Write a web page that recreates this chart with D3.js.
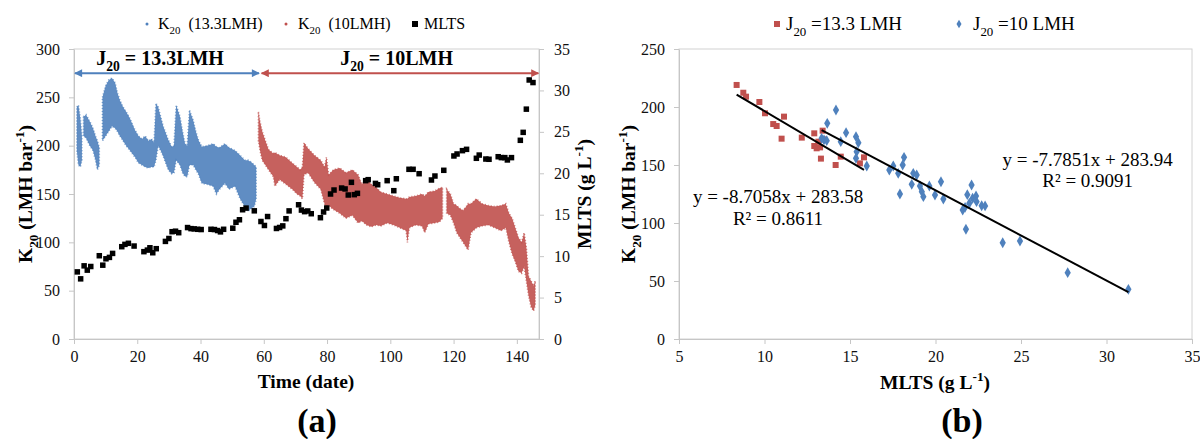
<html>
<head>
<style>
  body { margin: 0; background: #fff; }
  text { font-family: "Liberation Serif", "Times New Roman", serif; fill: #000; white-space: pre; }
  .axis path, .axis line { stroke: #c6c6c6; }
  .axis text { font-size: 16px; fill: #111; }
  .frame { fill: none; stroke: #d2d2d2; }
</style>
</head>
<body>
<svg id="chart" width="1200" height="439"></svg>
<script src="https://cdn.jsdelivr.net/npm/d3@7/dist/d3.min.js"></script>
<script>
// ---------- data ----------
// (a) K20 clouds, kept as envelopes per day: [day, low, high]  (null = gap)
const k20Band133 = [
  [0.9,195,240],[1.4,180,242],[2.0,178,228],[2.5,185,210],[2.7,null,null],
  [3.0,210,230],[3.8,208,232],[5.0,200,225],[6.0,195,218],[6.8,185,210],[7.4,175,205],[8.0,180,198],[8.5,null,null],
  [9.0,205,250],[10.0,210,262],[11.0,215,268],[12.0,220,270],[13.0,218,265],[13.7,215,255],[14.5,210,247],
  [15.5,205,240],[16.5,200,235],[17.7,195,228],[19.3,188,216],[20.4,182,210],[21.5,180,207],[22.5,178,210],
  [23.5,177,205],[24.5,178,207],[25.3,178,203],[25.9,185,244],[26.6,200,240],[27.4,195,230],[28.2,189,220],
  [29.0,182,213],[29.8,175,206],[30.9,171,199],[31.6,172,200],[32.3,185,242],[33.5,180,230],[34.3,172,215],
  [35.1,168,202],[35.8,168,200],[36.5,180,237],[37.7,180,226],[38.5,175,215],[39.3,171,206],[40.4,161,199],
  [42,160,200],[44,158,202],[45,150,199],[46,155,198],[47.7,161,202],[49,155,198],[50.9,158,195],[52.5,145,190],
  [54,137,185],[55,132,185],[56,135,183],[57,137,180],[57.6,145,178]
]
const k20Band10 = [
  [58.3,205,235],[58.8,195,225],[59.5,185,215],[60.5,180,205],[61.5,175,196],[63.0,168,192],[63.5,158,193],
  [65,165,190],[67,160,188],[69,155,182],[70.5,150,178],[71.5,148,175],[72.2,145,178],[72.7,170,203],
  [74,172,197],[76,162,190],[78,155,185],[79.2,140,178],[79.8,135,188],[80.5,138,170],[82,134,175],
  [84,130,177],[86,125,172],[88,128,175],[89.8,120,170],[91,122,160],[92.5,118,165],[94,116,160],
  [95.5,118,157],[97,117,152],[99,120,150],[101,118,148],[103,115,146],[105,112,145],[105.4,100,145],
  [106,115,147],[108,118,148],[110,117,150],[110.9,110,148],[112,119,152],[114,120,153],[115.5,121,156],
  [116.5,125,157],[117.1,null,null],
  [117.8,130,155],[119,128,150],[120,120,140],[121,110,138],[122,105,135],[123,100,133],[124,95,137],
  [124.6,92,140],[125.5,110,140],[127.2,115,145],[129,117,140],[131,118,138],[133,115,137],[135,112,138],
  [136.5,115,140],[137.5,100,130],[138.5,88,125],[139.5,80,115],[140.5,70,105],[141.5,68,100],[142.3,75,110],
  [143,60,95],[143.7,45,65],[144.5,33,60],[145.3,29,55],[145.8,35,60]
]
// (a) MLTS points: [day, g/L]
const mlts = [
  [1.05,8.10],[2.1,7.26],[3.2,8.83],[4.2,8.31],[5.3,8.75],[8.0,10.05],[9.1,8.91],[10.1,9.68],[11.2,9.85],
  [12.2,10.33],[15.1,11.14],[16.1,11.42],[17.2,11.55],[19.0,11.22],[22.1,10.54],[23.2,10.73],[24.0,11.01],
  [24.9,10.41],[26.0,10.90],[28.9,11.78],[30.0,12.13],[31.0,12.95],[32.1,13.01],[33.1,12.83],[35.9,13.45],
  [37.0,13.32],[38.0,13.29],[39.1,13.24],[40.2,13.21],[43.3,13.24],[44.4,13.21],[45.4,13.09],[46.3,12.93],
  [47.3,13.24],[50.2,13.37],[51.2,14.09],[52.3,14.39],[53.3,15.60],[54.4,15.80],[57.0,15.47],[59.1,14.18],
  [60.2,13.70],[61.2,14.78],[64.0,13.34],[65.0,13.46],[66.0,13.65],[67.0,14.52],[68.0,15.46],[71.0,16.20],
  [71.9,15.56],[72.9,15.37],[73.9,15.45],[75.0,15.12],[77.9,14.64],[78.9,15.33],[79.9,15.81],[81.1,17.50],
  [82.2,17.98],[84.6,18.22],[85.7,18.11],[86.7,17.38],[87.7,18.91],[88.6,17.42],[89.6,17.58],[92.2,19.11],
  [93.0,19.23],[95.3,18.78],[96.0,18.62],[99.0,19.11],[101.1,17.90],[101.9,19.34],[105.9,20.48],[107.2,20.48],
  [109.1,19.95],[113.0,19.19],[114.1,19.67],[116.9,20.36],[120.1,22.09],[121.1,22.33],[122.8,22.73],
  [124.1,22.89],[127.2,21.81],[128.1,22.20],[130.2,21.72],[131.2,21.69],[134.1,22.00],[135.1,21.89],
  [136.2,21.89],[137.0,21.61],[138.3,21.89],[141.1,23.98],[142.0,24.94],[143.0,27.74],[143.9,31.26],[145.1,30.95]
]
// (b) K20 vs MLTS: [MLTS, K20]
const scatter133 = [
  [8.37,219],[8.76,212.3],[8.92,208.9],[9.70,204.3],[10.03,194.6],[10.51,185.3],[10.71,183.6],[11.0,172.7],
  [11.14,191.7],[12.18,173.6],[12.91,177.3],[12.91,166.4],[13.05,164.4],[13.25,165.2],[13.15,170.1],
  [13.30,155.5],[13.40,179.6],[13.44,172.1],[14.16,150],[14.46,157.2],[15.58,151.4],[15.82,156.6]
]
const scatter10 = [
  [13.34,173],[13.48,171.6],[13.64,171],[13.67,185.9],[14.18,197.4],[14.46,170.1],[14.77,177.9],[15.35,174.4],
  [15.49,169.2],[15.39,161.5],[15.35,155.8],[15.98,149.1],[17.30,145.7],[17.53,149.1],[17.82,142.8],[17.92,125],
  [18.08,150],[18.16,156.6],[18.61,133.3],[18.7,142.8],[18.9,141.4],[19.09,131.9],[19.2,127],[19.29,122.7],
  [19.64,131.9],[19.97,124.1],[20.32,135.6],[20.46,120.7],[21.59,111.2],[21.73,113.5],[21.78,94.6],[21.86,124.4],
  [21.98,117],[22.11,132.8],[22.17,121.3],[22.37,123.3],[22.4,118.4],[22.7,114.9],[22.9,114.7],[23.93,83],
  [24.94,84.5],[27.73,57.2],[31.28,42.8]
]
// linear fits shown on (b): [slope, intercept, R2]
const fit133 = [-8.7058, 283.58, 0.8611]
const fit10 = [-7.7851, 283.94, 0.9091]

// tick values
const dayTicks = [0, 20, 40, 60, 80, 100, 120, 140]
const kTicksA = [0, 50, 100, 150, 200, 250, 300]
const mltsTicks = [0, 5, 10, 15, 20, 25, 30, 35]
const mltsTicksB = [5, 10, 15, 20, 25, 30, 35]
const kTicksB = [0, 50, 100, 150, 200, 250]

const blue = "#4f81bd", red = "#c0504d"
const serif = '"Liberation Serif", "Times New Roman", serif'

let svg = d3.select("#chart")

// write text with sub/superscript parts
function rich(sel, parts, size) {
  let off = 0
  parts.forEach(p => {
    let shift = p.sub ? size * 0.3 : p.sup ? -size * 0.4 : 0
    sel.append("tspan")
      .attr("dy", shift - off)
      .attr("font-size", (p.sub || p.sup) ? size * 0.68 : size)
      .text(p.t)
    off = shift
  })
  return sel
}

// draw an axis and force the serif tick font
function axis(gen, tx, ty) {
  let g = svg.append("g").attr("class", "axis")
    .attr("transform", `translate(${tx},${ty})`)
    .call(gen)
  g.attr("font-family", null).attr("font-size", null)
  g.selectAll("text").style("font-family", serif).style("font-size", "16px")
  return g
}

// arrowheads
let defs = svg.append("defs")
;[["arrBlue", blue], ["arrRed", red]].forEach(([id, c]) => {
  defs.append("marker").attr("id", id)
    .attr("viewBox", "0 0 10 10").attr("refX", 9).attr("refY", 5)
    .attr("markerWidth", 4.5).attr("markerHeight", 4)
    .attr("orient", "auto-start-reverse")
    .append("path").attr("d", "M0,0 L10,5 L0,10 z").attr("fill", c)
})

// ================= chart (a) =================
let xA = d3.scaleLinear().domain([0, 147]).range([74, 539])
let yA = d3.scaleLinear().domain([0, 300]).range([339, 49])
let y2A = d3.scaleLinear().domain([0, 35]).range([339, 49])

svg.append("rect").attr("class", "frame")
  .attr("x", 74).attr("y", 49).attr("width", 465).attr("height", 290)

axis(d3.axisBottom(xA).tickValues(dayTicks).tickSize(5).tickSizeOuter(0).tickPadding(7), 0, 339)
axis(d3.axisLeft(yA).tickValues(kTicksA).tickSize(5).tickSizeOuter(0).tickPadding(9), 74, 0)
axis(d3.axisRight(y2A).tickValues(mltsTicks).tickSize(5).tickSizeOuter(0).tickPadding(10), 539, 0)

// K20 clouds as filled envelopes, with a dotted edge for the speckled look
let band = d3.area()
  .defined(d => d[1] !== null)
  .x(d => xA(d[0]))
  .y0(d => yA(d[1]))
  .y1(d => yA(d[2]))

;[[k20Band133, blue], [k20Band10, red]].forEach(([data, c]) => {
  svg.append("path").datum(data)
    .attr("d", band)
    .attr("fill", c).attr("fill-opacity", 0.9)
    .attr("stroke", c).attr("stroke-width", 1.6).attr("stroke-opacity", 0.75)
    .attr("stroke-dasharray", "1 2")
})

// MLTS squares
svg.append("g").selectAll("rect").data(mlts).join("rect")
  .attr("x", d => xA(d[0]) - 2.75)
  .attr("y", d => y2A(d[1]) - 2.75)
  .attr("width", 5.5).attr("height", 5.5)
  .attr("fill", "#000")

// flux period arrows + labels
let arrowY = yA(275)
svg.append("line")
  .attr("x1", xA(0.3)).attr("x2", xA(58.5)).attr("y1", arrowY).attr("y2", arrowY)
  .attr("stroke", blue).attr("stroke-width", 2)
  .attr("marker-start", "url(#arrBlue)").attr("marker-end", "url(#arrBlue)")
svg.append("line")
  .attr("x1", xA(59.3)).attr("x2", xA(146.8)).attr("y1", arrowY).attr("y2", arrowY)
  .attr("stroke", red).attr("stroke-width", 2)
  .attr("marker-start", "url(#arrRed)").attr("marker-end", "url(#arrRed)")

rich(svg.append("text").attr("x", xA(27.2)).attr("y", yA(283)).attr("text-anchor", "middle")
  .attr("font-weight", "bold"), [{t: "J"}, {t: "20", sub: true}, {t: " = 13.3LMH"}], 20)
rich(svg.append("text").attr("x", xA(102)).attr("y", yA(283)).attr("text-anchor", "middle")
  .attr("font-weight", "bold"), [{t: "J"}, {t: "20", sub: true}, {t: " = 10LMH"}], 20)

// axis titles (a)
rich(svg.append("text").attr("transform", "translate(32,194) rotate(-90)")
  .attr("text-anchor", "middle").attr("font-weight", "bold"),
  [{t: "K"}, {t: "20", sub: true}, {t: " (LMH bar"}, {t: "-1", sup: true}, {t: ")"}], 19.5)
rich(svg.append("text").attr("transform", "translate(591,194) rotate(-90)")
  .attr("text-anchor", "middle").attr("font-weight", "bold"),
  [{t: "MLTS (g L"}, {t: "-1", sup: true}, {t: ")"}], 19.5)
svg.append("text").attr("x", 306).attr("y", 388).attr("text-anchor", "middle")
  .attr("font-weight", "bold").attr("font-size", 19.5).text("Time (date)")
svg.append("text").attr("x", 317).attr("y", 432).attr("text-anchor", "middle")
  .attr("font-weight", "bold").attr("font-size", 34).text("(a)")

// legend (a)
svg.append("circle").attr("cx", 147).attr("cy", 24).attr("r", 1.5).attr("fill", blue)
rich(svg.append("text").attr("x", 158).attr("y", 29), [{t: "K"}, {t: "20", sub: true}, {t: "  (13.3LMH)"}], 16)
svg.append("circle").attr("cx", 286).attr("cy", 24).attr("r", 1.5).attr("fill", red)
rich(svg.append("text").attr("x", 298).attr("y", 29), [{t: "K"}, {t: "20", sub: true}, {t: "  (10LMH)"}], 16)
svg.append("rect").attr("x", 412).attr("y", 21).attr("width", 6).attr("height", 6).attr("fill", "#000")
svg.append("text").attr("x", 424).attr("y", 29).attr("font-size", 16).text("MLTS")

// ================= chart (b) =================
let xB = d3.scaleLinear().domain([5, 35]).range([679, 1192])
let yB = d3.scaleLinear().domain([0, 250]).range([339, 49])

svg.append("rect").attr("class", "frame")
  .attr("x", 679).attr("y", 49).attr("width", 513).attr("height", 290)
axis(d3.axisBottom(xB).tickValues(mltsTicksB).tickSize(5).tickSizeOuter(0).tickPadding(7), 0, 339)
axis(d3.axisLeft(yB).tickValues(kTicksB).tickSize(5).tickSizeOuter(0).tickPadding(9), 679, 0)

svg.append("g").selectAll("path").data(scatter133).join("path")
  .attr("transform", d => `translate(${xB(d[0])},${yB(d[1])})`)
  .attr("d", d3.symbol(d3.symbolSquare, 36))
  .attr("fill", red)
svg.append("g").selectAll("path").data(scatter10).join("path")
  .attr("transform", d => `translate(${xB(d[0])},${yB(d[1])})`)
  .attr("d", d3.symbol(d3.symbolDiamond, 34))
  .attr("fill", blue)

// trendlines over each series' MLTS range
;[[scatter133, fit133], [scatter10, fit10]].forEach(([data, f]) => {
  let ext = d3.extent(data, d => d[0])
  svg.append("line")
    .attr("x1", xB(ext[0])).attr("y1", yB(f[0] * ext[0] + f[1]))
    .attr("x2", xB(ext[1])).attr("y2", yB(f[0] * ext[1] + f[1]))
    .attr("stroke", "#000").attr("stroke-width", 2)
})

// equations
function eq(f, mx, k1, k2) {
  svg.append("text").attr("x", xB(mx)).attr("y", yB(k1)).attr("text-anchor", "middle")
    .attr("font-size", 19).text(`y = ${f[0]}x + ${f[1]}`)
  svg.append("text").attr("x", xB(mx)).attr("y", yB(k2)).attr("text-anchor", "middle")
    .attr("font-size", 19).text(`R² = ${f[2]}`)
}
eq(fit133, 10.79, 117.2, 98.3)
eq(fit10, 28.9, 149.1, 131)

// axis titles (b)
rich(svg.append("text").attr("transform", "translate(635,194) rotate(-90)")
  .attr("text-anchor", "middle").attr("font-weight", "bold"),
  [{t: "K"}, {t: "20", sub: true}, {t: " (LMH bar"}, {t: "-1", sup: true}, {t: ")"}], 19.5)
rich(svg.append("text").attr("x", 935).attr("y", 389).attr("text-anchor", "middle")
  .attr("font-weight", "bold"), [{t: "MLTS (g L"}, {t: "-1", sup: true}, {t: ")"}], 19.5)
svg.append("text").attr("x", 962).attr("y", 432).attr("text-anchor", "middle")
  .attr("font-weight", "bold").attr("font-size", 34).text("(b)")

// legend (b)
svg.append("rect").attr("x", 774).attr("y", 21).attr("width", 6).attr("height", 6).attr("fill", red)
rich(svg.append("text").attr("x", 786).attr("y", 30), [{t: "J"}, {t: "20", sub: true}, {t: " =13.3 LMH"}], 19)
svg.append("path").attr("transform", "translate(959,24)")
  .attr("d", d3.symbol(d3.symbolDiamond, 22)).attr("fill", blue)
rich(svg.append("text").attr("x", 973).attr("y", 30), [{t: "J"}, {t: "20", sub: true}, {t: " =10 LMH"}], 19)
</script>
</body>
</html>
